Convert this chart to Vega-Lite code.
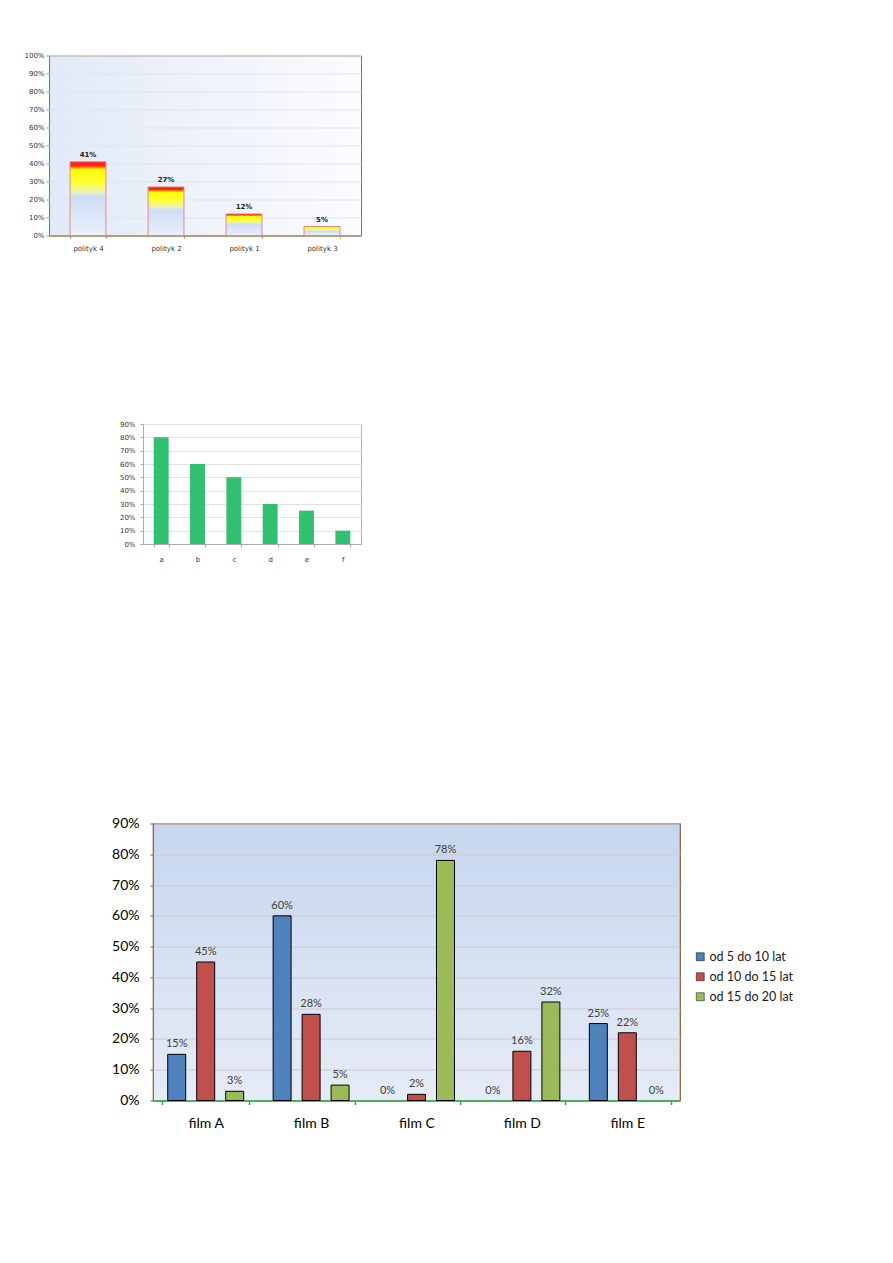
{
  "$schema": "https://vega.github.io/schema/vega-lite/v6.json",
  "background": "white",
  "padding": {"left": 0, "top": 50.5, "right": 0, "bottom": 0},
  "config": {"view": {"stroke": null}},
  "spacing": 253,
  "vconcat": [
    {
      "spacing": 166.5,
      "vconcat": [
        {
          "spacing": 0,
          "hconcat": [
            {"width": 23, "height": 10, "data": {"values": [{}]}, "mark": {"type": "point", "opacity": 0}},
            {
              "width": 312,
              "height": 180,
              "view": {
                "stroke": "#9a6a3a",
                "strokeWidth": 1,
                "fill": {"gradient": "linear", "x1": 0, "y1": 0, "x2": 1, "y2": 0,
                  "stops": [{"offset": 0, "color": "#e2e9f7"}, {"offset": 1, "color": "#fbfcfe"}]}
              },
              "data": {"values": [
                {"polityk": "polityk 4", "wynik": 0.41},
                {"polityk": "polityk 2", "wynik": 0.27},
                {"polityk": "polityk 1", "wynik": 0.12},
                {"polityk": "polityk 3", "wynik": 0.05}
              ]},
              "encoding": {
                "x": {"field": "polityk", "type": "nominal", "sort": null,
                  "scale": {"paddingInner": 0.54, "paddingOuter": 0.27},
                  "axis": {"title": null, "labelAngle": 0, "labelFont": "DejaVu Sans", "labelFontSize": 7, "labelColor": "#333333",
                    "domainColor": "#9a6a3a", "tickColor": "#aaaaaa", "tickSize": 3, "tickBand": "extent", "labelPadding": 6, "grid": false}},
                "y": {"field": "wynik", "type": "quantitative", "scale": {"domain": [0, 1]},
                  "axis": {"title": null, "format": ".0%", "values": [0, 0.1, 0.2, 0.3, 0.4, 0.5, 0.6, 0.7, 0.8, 0.9, 1],
                    "labelFont": "DejaVu Sans", "labelFontSize": 7, "labelColor": "#333333", "tickSize": 3, "tickColor": "#999999",
                    "domain": false, "gridColor": "#dfe5ef", "labelPadding": 2}}
              },
              "layer": [
                {"mark": {"type": "bar", "stroke": "#e58a8a", "strokeWidth": 1,
                  "fill": {"gradient": "linear", "x1": 0, "y1": 0, "x2": 0, "y2": 1,
                    "stops": [
                      {"offset": 0, "color": "#ff1a1a"},
                      {"offset": 0.06, "color": "#ff2a1a"},
                      {"offset": 0.08, "color": "#ffa000"},
                      {"offset": 0.11, "color": "#ffff00"},
                      {"offset": 0.3, "color": "#ffff40"},
                      {"offset": 0.42, "color": "#e8f0c0"},
                      {"offset": 0.47, "color": "#cddcf5"},
                      {"offset": 1, "color": "#eaf0fb"}
                    ]}}},
                {"mark": {"type": "text", "dy": -7, "font": "DejaVu Sans", "fontSize": 7, "fontWeight": "bold", "color": "#222222"},
                  "encoding": {"text": {"field": "wynik", "format": ".0%"}}}
              ]
            }
          ]
        },
        {
          "spacing": 0,
          "hconcat": [
            {"width": 118, "height": 10, "data": {"values": [{}]}, "mark": {"type": "point", "opacity": 0}},
            {
              "width": 218,
              "height": 120,
              "view": {"stroke": "#c9b193", "strokeWidth": 1, "fill": "white"},
              "data": {"values": [
                {"kategoria": "a", "wartosc": 0.8},
                {"kategoria": "b", "wartosc": 0.6},
                {"kategoria": "c", "wartosc": 0.5},
                {"kategoria": "d", "wartosc": 0.3},
                {"kategoria": "e", "wartosc": 0.25},
                {"kategoria": "f", "wartosc": 0.1}
              ]},
              "mark": {"type": "bar", "color": "#30c070"},
              "encoding": {
                "x": {"field": "kategoria", "type": "nominal", "sort": null,
                  "scale": {"paddingInner": 0.59, "paddingOuter": 0.295},
                  "axis": {"title": null, "labelAngle": 0, "labelFont": "DejaVu Sans", "labelFontSize": 7, "labelColor": "#333333",
                    "domainColor": "#aaaaaa", "tickColor": "#aaaaaa", "tickSize": 3, "tickBand": "extent", "labelPadding": 8, "grid": false}},
                "y": {"field": "wartosc", "type": "quantitative", "scale": {"domain": [0, 0.9]},
                  "axis": {"title": null, "format": ".0%", "values": [0, 0.1, 0.2, 0.3, 0.4, 0.5, 0.6, 0.7, 0.8, 0.9],
                    "labelFont": "DejaVu Sans", "labelFontSize": 7, "labelColor": "#333333", "tickSize": 3, "tickColor": "#aaaaaa",
                    "domainColor": "#aaaaaa", "gridColor": "#e2e2e2", "labelPadding": 5}}
              }
            }
          ]
        }
      ]
    },
    {
      "spacing": 0,
      "hconcat": [
        {"width": 110, "height": 10, "data": {"values": [{}]}, "mark": {"type": "point", "opacity": 0}},
        {
          "width": 527,
          "height": 277,
          "view": {
            "stroke": "#8a5a30",
            "strokeWidth": 1.2,
            "fill": {"gradient": "linear", "x1": 0, "y1": 0, "x2": 0, "y2": 1,
              "stops": [{"offset": 0, "color": "#c6d6ee"}, {"offset": 1, "color": "#e6ecf6"}]}
          },
          "data": {"values": [
            {"film": "film A", "grupa": "od 5 do 10 lat", "udzial": 0.15},
            {"film": "film A", "grupa": "od 10 do 15 lat", "udzial": 0.45},
            {"film": "film A", "grupa": "od 15 do 20 lat", "udzial": 0.03},
            {"film": "film B", "grupa": "od 5 do 10 lat", "udzial": 0.60},
            {"film": "film B", "grupa": "od 10 do 15 lat", "udzial": 0.28},
            {"film": "film B", "grupa": "od 15 do 20 lat", "udzial": 0.05},
            {"film": "film C", "grupa": "od 5 do 10 lat", "udzial": 0.0},
            {"film": "film C", "grupa": "od 10 do 15 lat", "udzial": 0.02},
            {"film": "film C", "grupa": "od 15 do 20 lat", "udzial": 0.78},
            {"film": "film D", "grupa": "od 5 do 10 lat", "udzial": 0.0},
            {"film": "film D", "grupa": "od 10 do 15 lat", "udzial": 0.16},
            {"film": "film D", "grupa": "od 15 do 20 lat", "udzial": 0.32},
            {"film": "film E", "grupa": "od 5 do 10 lat", "udzial": 0.25},
            {"film": "film E", "grupa": "od 10 do 15 lat", "udzial": 0.22},
            {"film": "film E", "grupa": "od 15 do 20 lat", "udzial": 0.0}
          ]},
          "encoding": {
            "x": {"field": "film", "type": "nominal", "sort": null,
              "scale": {"paddingInner": 0.175, "paddingOuter": 0.0875},
              "axis": {"title": null, "labelAngle": 0, "labelFont": "Lato", "labelFontSize": 14, "labelColor": "#000000",
                "domainColor": "#22b04a", "domainWidth": 1.5, "tickColor": "#22b04a", "tickWidth": 1.5, "tickSize": 4, "tickBand": "extent",
                "labelPadding": 12, "grid": false}},
            "xOffset": {"field": "grupa", "type": "nominal", "sort": ["od 5 do 10 lat", "od 10 do 15 lat", "od 15 do 20 lat"],
              "scale": {"paddingInner": 0.38, "paddingOuter": 0.19}},
            "y": {"field": "udzial", "type": "quantitative", "scale": {"domain": [0, 0.9]},
              "axis": {"title": null, "format": ".0%", "values": [0, 0.1, 0.2, 0.3, 0.4, 0.5, 0.6, 0.7, 0.8, 0.9],
                "labelFont": "Lato", "labelFontSize": 14, "labelColor": "#000000", "tickSize": 3, "tickColor": "#8a5a30",
                "domain": false, "gridColor": "#d0c8d0", "labelPadding": 11}}
          },
          "layer": [
            {"mark": {"type": "bar", "stroke": "#000000", "strokeWidth": 1},
              "encoding": {
                "color": {"field": "grupa", "type": "nominal", "sort": ["od 5 do 10 lat", "od 10 do 15 lat", "od 15 do 20 lat"],
                  "scale": {"domain": ["od 5 do 10 lat", "od 10 do 15 lat", "od 15 do 20 lat"], "range": ["#4f81bd", "#c0504d", "#9bbb59"]},
                  "legend": {"title": null, "orient": "none", "legendX": 694, "legendY": 895, "padding": 0,
                    "symbolType": "square", "symbolSize": 64, "symbolStrokeColor": "#000000", "symbolStrokeWidth": 0.5, "symbolOpacity": 1,
                    "labelFont": "Lato", "labelFontSize": 12.5, "labelColor": "#222222", "labelOffset": 3, "rowPadding": 7}},
                "strokeOpacity": {"condition": {"test": "datum.udzial === 0", "value": 0}, "value": 1}
              }},
            {"mark": {"type": "text", "dy": -10, "font": "Lato", "fontSize": 11, "color": "#404040"},
              "encoding": {"text": {"field": "udzial", "format": ".0%"}}}
          ]
        }
      ]
    }
  ]
}
